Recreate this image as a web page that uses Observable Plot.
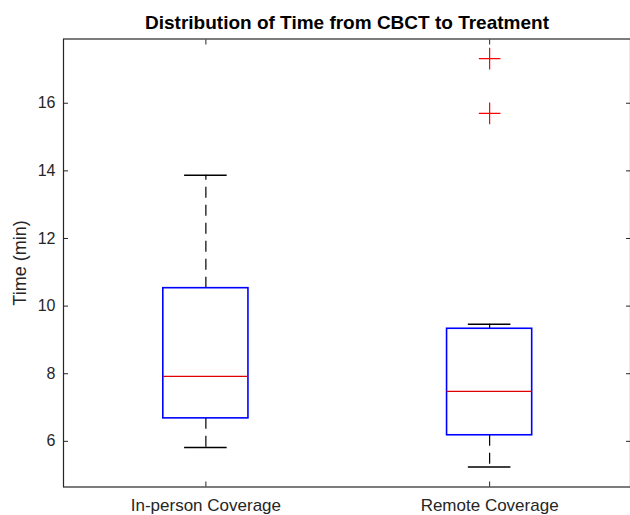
<!DOCTYPE html>
<html>
<head>
<meta charset="utf-8">
<script src="https://cdn.jsdelivr.net/npm/d3@7"></script>
<script src="https://cdn.jsdelivr.net/npm/@observablehq/plot@0.6"></script>
<style>
  html, body { margin: 0; padding: 0; background: #fff; }
  #chart svg { display: block; }
</style>
</head>
<body>
<div id="chart"></div>
<script>
// ---- data ----
const groups = ["In-person Coverage", "Remote Coverage"];
const positions = [1, 2];
const q1 = [6.68, 6.18];
const medians = [7.92, 7.48];
const q3 = [10.53, 9.33];
const whiskerLow = [5.82, 5.24];
const whiskerHigh = [13.87, 9.46];
const outlierGroup = [2, 2];
const outlierValues = [17.32, 15.70];
const yTicks = [6, 8, 10, 12, 14, 16];

const boxHalf = 0.15;
const capHalf = 0.075;

const boxes = groups.map((g, i) => ({
  g, x: positions[i], q1: q1[i], med: medians[i], q3: q3[i],
  lo: whiskerLow[i], hi: whiskerHigh[i]
}));
const outliers = outlierValues.map((v, i) => ({x: outlierGroup[i], v}));

const ink = "#262626";
const font = "'Liberation Sans', Arial, Helvetica, sans-serif";
const blank = () => "";

const chart = Plot.plot({
  width: 630,
  height: 515,
  marginLeft: 63,
  marginRight: 0,
  marginTop: 38.5,
  marginBottom: 28.5,
  style: {fontFamily: font, color: ink, background: "#fff"},
  x: {domain: [0.5, 2.5], range: [63.5, 631]},
  y: {domain: [4.65, 17.9]},
  marks: [
    // whiskers (dashed)
    Plot.ruleX(boxes, {x: "x", y1: "q3", y2: "hi", stroke: "#000", strokeWidth: 1.2, strokeDasharray: "11,7"}),
    Plot.ruleX(boxes, {x: "x", y1: "q1", y2: "lo", stroke: "#000", strokeWidth: 1.2, strokeDasharray: "11,7"}),
    // caps
    Plot.ruleY(boxes, {y: "hi", x1: d => d.x - capHalf, x2: d => d.x + capHalf, stroke: "#000", strokeWidth: 1.5}),
    Plot.ruleY(boxes, {y: "lo", x1: d => d.x - capHalf, x2: d => d.x + capHalf, stroke: "#000", strokeWidth: 1.5}),
    // boxes
    Plot.rect(boxes, {x1: d => d.x - boxHalf, x2: d => d.x + boxHalf, y1: "q1", y2: "q3", fill: "none", stroke: "#0000ff", strokeWidth: 1.6}),
    // medians
    Plot.ruleY(boxes, {y: "med", x1: d => d.x - boxHalf, x2: d => d.x + boxHalf, stroke: "#e00000", strokeWidth: 1.2}),
    // outliers
    Plot.dot(outliers, {x: "x", y: "v", symbol: "plus", r: 7, stroke: "#ff0000", strokeWidth: 1.2}),
    // axes
    Plot.axisY(yTicks, {anchor: "left", tickSize: -5, tickPadding: 13, fontSize: 16, label: null, stroke: ink, fill: ink}),
    Plot.axisY(yTicks, {anchor: "right", tickSize: -5, tickFormat: blank, label: null, stroke: ink}),
    Plot.axisX(positions, {anchor: "bottom", tickSize: -5, tickPadding: 17, fontSize: 17, tickFormat: d => groups[d - 1], label: null, stroke: ink, fill: ink}),
    Plot.axisX(positions, {anchor: "top", tickSize: -5, tickFormat: blank, label: null, stroke: ink}),
    Plot.frame({stroke: ink, strokeWidth: 1.2}),
    // y-axis title
    Plot.text(["Time (min)"], {frameAnchor: "left", dx: -43, rotate: -90, textAnchor: "middle", lineAnchor: "middle", fontSize: 18, fill: ink}),
    // chart title
    Plot.text(["Distribution of Time from CBCT to Treatment"], {frameAnchor: "top", dy: -10.5, lineAnchor: "bottom", fontSize: 19, fontWeight: "bold", fill: "#000"})
  ]
});

document.getElementById("chart").appendChild(chart);
</script>
</body>
</html>
